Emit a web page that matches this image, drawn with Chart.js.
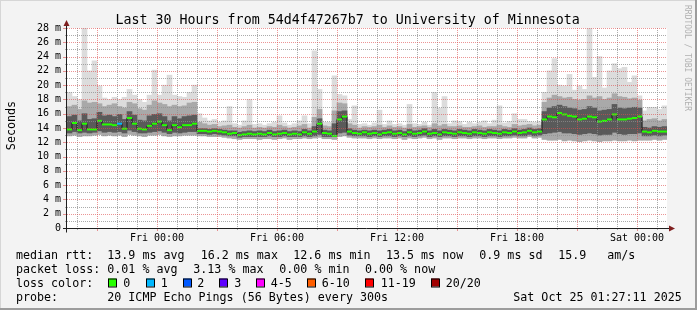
<!DOCTYPE html>
<html><head><meta charset="utf-8">
<script src="https://cdn.jsdelivr.net/npm/chart.js@4"></script>
<style>html,body{margin:0;padding:0;background:#f3f3f3;}#wrap{width:697px;height:310px;}</style>
</head><body><div id="wrap"><canvas id="c" width="697" height="310"></canvas></div>
<script>
// ---------- data ----------
const titleText = "Last 30 Hours from 54d4f47267b7 to University of Minnesota";
const yAxisTitle = "Seconds";
const watermark = "RRDTOOL / TOBI OETIKER";
const xTickValues = [4.5, 10.5, 16.5, 22.5, 28.5];            // hours since Thu 19:30
const xTickLabels = ["Fri 00:00", "Fri 06:00", "Fri 12:00", "Fri 18:00", "Sat 00:00"];
const yTickValues = [0, 2, 4, 6, 8, 10, 12, 14, 16, 18, 20, 22, 24, 26, 28];
const spanHours = 30;
const binHours = 0.25;

// median rtt (ms), one value per 15-minute bin
const median = [
13.8,14.7,13.7,14.6,13.8,13.8,15.0,14.5,14.5,14.4,14.6,13.9,15.4,14.6,13.9,13.8,14.3,14.6,14.9,14.4,13.7,14.4,14.1,14.4,14.4,14.6,
13.6,13.6,13.5,13.6,13.5,13.4,13.2,13.3,13.0,13.1,13.2,13.1,13.2,13.1,13.3,13.1,13.2,13.3,13.1,13.2,13.1,13.4,13.2,13.5,14.6,13.3,13.2,12.9,15.2,15.6,13.5,13.3,13.2,
13.4,13.2,13.3,13.1,13.3,13.4,13.2,13.3,13.1,13.4,13.2,13.3,13.5,13.2,13.3,13.1,13.4,13.3,13.2,13.4,13.3,13.2,13.4,13.3,13.2,13.4,13.3,13.2,13.4,13.3,13.5,13.3,13.4,13.6,13.4,13.5,
15.2,15.6,15.5,16.1,15.9,15.7,15.6,15.2,15.3,15.6,15.5,14.9,15.0,15.2,15.9,15.2,15.2,15.3,15.4,15.6,
13.5,13.4,13.6,13.5,13.5];
// lost pings (of 20) per bin
const lossCount = [
0,0,0,0,0,0,0,0,0,0,1,0,0,0,0,0,0,0,0,0,0,0,0,0,0,0,
0,0,0,0,0,0,0,0,0,0,0,0,0,0,0,0,0,0,0,0,0,0,0,0,0,0,0,0,0,0,0,0,0,
0,0,0,0,0,0,0,0,0,0,0,0,0,0,0,0,0,0,0,0,0,0,0,0,0,0,0,0,0,0,0,0,0,0,0,0,
0,0,0,0,0,0,0,0,0,0,0,0,0,0,0,0,0,0,0,0,
0,0,0,0,0];
// smoke: lowest ping, dark band low/high, medium band high, highest ping (ms)
const smokeLo = [
12.9,13.0,12.8,12.9,12.9,13.0,13.1,12.9,13.0,12.9,13.0,12.8,13.1,13.0,12.9,12.8,13.0,13.0,13.1,12.9,12.8,12.9,12.9,13.0,13.0,13.0,
12.9,12.9,12.8,12.8,12.8,12.7,12.6,12.5,12.4,12.5,12.5,12.5,12.4,12.5,12.5,12.4,12.5,12.6,12.4,12.5,12.5,12.6,12.5,12.6,12.7,12.5,12.5,12.4,12.8,12.9,12.7,12.6,12.6,
12.6,12.5,12.6,12.5,12.6,12.6,12.5,12.6,12.4,12.6,12.5,12.6,12.7,12.5,12.6,12.4,12.6,12.6,12.5,12.6,12.6,12.5,12.6,12.6,12.5,12.6,12.6,12.5,12.6,12.6,12.7,12.6,12.6,12.8,12.6,12.7,
12.4,12.3,12.3,12.4,12.2,12.3,12.2,12.1,12.2,12.3,12.2,12.1,12.2,12.2,12.3,12.2,12.2,12.3,12.2,12.3,
12.3,12.3,12.4,12.3,12.4];
const darkLo = [
13.3,13.5,13.3,13.4,13.3,13.4,13.6,13.4,13.5,13.4,13.5,13.3,13.7,13.5,13.3,13.3,13.4,13.5,13.6,13.4,13.2,13.4,13.3,13.4,13.5,13.5,
13.2,13.2,13.1,13.2,13.1,13.0,12.9,12.9,12.7,12.8,12.8,12.8,12.8,12.8,12.9,12.8,12.8,12.9,12.8,12.8,12.8,12.9,12.8,12.9,13.1,12.8,12.8,12.8,13.3,13.4,13.0,12.9,12.9,
12.9,12.8,12.9,12.8,12.9,12.9,12.8,12.9,12.8,12.9,12.8,12.9,13.0,12.8,12.9,12.8,12.9,12.9,12.8,12.9,12.9,12.8,12.9,12.9,12.8,12.9,12.9,12.8,12.9,12.9,13.0,12.9,12.9,13.1,12.9,13.0,
13.2,13.3,13.4,13.5,13.3,13.3,13.2,13.1,13.2,13.3,13.2,13.0,13.1,13.1,13.4,13.2,13.1,13.2,13.2,13.3,
12.9,12.9,13.0,12.9,13.0];
const darkHi = [
15.6,15.8,15.0,16.0,15.2,15.3,16.2,15.7,15.8,15.6,15.9,15.2,16.3,15.8,15.1,15.0,15.7,15.9,16.0,15.6,15.0,15.6,15.3,15.6,15.7,15.8,
13.9,13.9,13.8,13.9,13.8,13.7,13.6,13.6,13.4,13.5,13.6,13.5,13.6,13.5,13.7,13.5,13.6,13.7,13.5,13.6,13.5,13.8,13.6,14.2,15.3,13.7,13.6,14.6,16.3,16.4,13.9,13.7,13.6,
13.7,13.6,13.7,13.6,13.7,13.8,13.6,13.7,13.5,13.8,13.6,13.7,13.9,13.6,13.8,13.6,13.8,13.7,13.6,13.8,13.7,13.6,13.8,13.7,13.6,13.8,13.7,13.6,13.8,13.7,13.9,13.7,13.8,14.0,13.8,13.9,
16.3,16.8,17.0,17.2,17.0,16.8,16.7,16.5,16.6,17.0,16.8,16.4,16.5,16.6,17.3,16.8,16.7,16.8,16.9,16.8,
14.1,14.0,14.2,14.1,14.2];
const midHi = [
17.0,17.2,16.6,17.8,17.5,17.6,17.4,17.0,17.2,17.4,17.0,16.8,17.6,17.4,16.7,16.5,17.2,17.8,17.5,17.3,17.0,17.2,17.0,17.1,17.5,17.6,
14.8,14.6,14.4,14.5,14.2,14.3,14.4,14.1,14.0,14.2,14.4,14.0,14.1,14.0,14.2,14.1,14.4,14.2,14.0,14.1,14.3,14.5,14.0,15.5,16.6,14.3,14.2,16.4,17.5,17.4,14.6,14.4,14.0,
14.2,14.1,14.2,14.4,14.1,14.3,14.1,14.2,14.0,14.5,14.1,14.2,14.3,14.1,14.6,14.3,14.5,14.2,14.2,14.3,14.1,14.1,14.2,14.3,14.1,14.2,14.2,14.4,14.2,14.1,14.5,14.3,14.4,14.5,14.3,14.4,
17.6,18.2,18.6,18.4,18.2,18.3,18.0,17.9,18.0,18.5,18.2,18.4,18.0,18.2,18.8,18.4,18.3,18.1,18.2,17.9,
15.0,15.2,15.3,15.0,15.2];
const smokeHi = [
19.0,18.4,18.0,28.0,22.0,23.4,19.9,18.2,18.0,18.3,18.0,18.3,19.4,18.6,18.0,17.6,18.6,22.1,18.6,20.0,21.4,18.6,18.4,18.3,19.0,20.0,
16.0,15.4,15.0,15.2,14.8,15.0,17.0,14.6,14.4,15.0,18.0,14.5,14.6,14.4,14.6,14.8,15.7,14.7,14.4,14.6,15.0,15.7,14.6,24.8,19.4,14.8,14.8,21.3,18.7,18.5,15.2,17.1,14.5,
14.6,14.4,14.7,16.5,14.5,15.0,14.5,14.6,14.4,17.3,14.6,14.5,14.8,14.4,19.0,16.8,18.4,14.6,15.0,14.9,14.5,14.8,14.6,14.8,15.0,14.6,15.1,17.1,14.7,14.9,16.0,15.2,15.2,14.9,14.8,14.9,
19.0,22.0,23.7,20.0,19.9,21.5,19.3,19.9,19.4,28.0,21.1,24.0,19.6,22.0,23.0,22.3,22.5,20.4,21.3,18.5,
16.4,16.9,16.9,16.6,17.1];

const legendRows = [
  {y: 258.5, items: [[16,"median rtt:"],[107.3,"13.9 ms avg"],[200.7,"16.2 ms max"],[293.3,"12.6 ms min"],[386,"13.5 ms now"],[479.3,"0.9 ms sd"],[558.3,"15.9"],[607.3,"am/s"]]},
  {y: 272.5, items: [[16,"packet loss:"],[107.3,"0.01 % avg"],[193.3,"3.13 % max"],[279.3,"0.00 % min"],[365,"0.00 % now"]]},
  {y: 286.5, items: [[16,"loss color:"]]},
  {y: 300.5, items: [[16,"probe:"],[107.3,"20 ICMP Echo Pings (56 Bytes) every 300s"],[513.3,"Sat Oct 25 01:27:11 2025"]]}
];
const lossLabels = ["0","1","2","3","4-5","6-10","11-19","20/20"];
const lossColors = ["#26ff00","#00b8ff","#0059ff","#5e00ff","#ff00ff","#ff5e00","#ff0000","#a10000"];
const lossBoxX = [108.3,145.7,182.7,219.3,256,307.3,365.3,431];
const lossTextX = [123.3,160.7,197.3,234.3,270.7,321.7,380.7,445.7];

// ---------- build ----------
const FONT = '"DejaVu Sans Mono", monospace';
const binTime = median.map((_, i) => (i + 0.5) * binHours);
const pts = arr => arr.map((v, i) => ({x: binTime[i], y: v}));
const band = (a, b) => a.map((v, i) => ({x: binTime[i], y: [v, b[i]]}));
function lossColor(n){
  if (n <= 3) return lossColors[n];
  if (n <= 5) return lossColors[4];
  if (n <= 10) return lossColors[5];
  if (n <= 19) return lossColors[6];
  return lossColors[7];
}
const GRID = 'rgba(143,143,143,0.75)';
const MGRID = 'rgba(222,79,79,0.6)';

const bgPlugin = {
  id: 'bg',
  beforeDraw(chart){
    const {ctx, chartArea: a, width: W, height: H} = chart;
    ctx.save();
    ctx.fillStyle = '#f3f3f3'; ctx.fillRect(0, 0, W, H);
    ctx.fillStyle = '#d6d6d6'; ctx.fillRect(0, 0, W, 1); ctx.fillRect(0, 0, 1, H);
    ctx.fillStyle = '#9c9c9c'; ctx.fillRect(W - 2, 0, 2, H); ctx.fillRect(0, H - 2, W, 2);
    ctx.fillStyle = '#ffffff'; ctx.fillRect(a.left, a.top, a.right - a.left, a.bottom - a.top);
    ctx.restore();
  }
};
const gridPlugin = {
  id: 'rrdgrid',
  afterDatasetsDraw(chart){
    const {ctx, chartArea: a, scales: {x, y}} = chart;
    ctx.save();
    ctx.lineWidth = 1;
    ctx.setLineDash([1, 1]);
    for (let h = 0.5; h < spanHours; h += 1){
      const px = Math.round(x.getPixelForValue(h)) + 0.5;
      const major = Math.abs(((h - 1.5) % 3 + 3) % 3) < 1e-6;
      ctx.strokeStyle = major ? MGRID : GRID;
      ctx.beginPath(); ctx.moveTo(px, a.top); ctx.lineTo(px, a.bottom); ctx.stroke();
    }
    for (let v = 1; v <= 28; v++){
      const py = Math.round(y.getPixelForValue(v)) + 0.5;
      ctx.strokeStyle = (v % 2 === 0) ? MGRID : GRID;
      ctx.beginPath(); ctx.moveTo(a.left, py); ctx.lineTo(a.right, py); ctx.stroke();
    }
    ctx.setLineDash([]);
    // tick marks
    for (let h = 0.5; h < spanHours; h += 1){
      const px = Math.round(x.getPixelForValue(h)) + 0.5;
      const major = Math.abs(((h - 1.5) % 3 + 3) % 3) < 1e-6;
      ctx.strokeStyle = major ? MGRID : GRID;
      ctx.beginPath(); ctx.moveTo(px, a.bottom); ctx.lineTo(px, a.bottom + (major ? 3 : 2)); ctx.stroke();
    }
    for (let v = 1; v <= 28; v++){
      const py = Math.round(y.getPixelForValue(v)) + 0.5;
      const major = v % 2 === 0;
      ctx.strokeStyle = major ? MGRID : GRID;
      ctx.beginPath(); ctx.moveTo(a.left - (major ? 4 : 2), py); ctx.lineTo(a.left, py); ctx.stroke();
    }
    // axes
    ctx.strokeStyle = '#1f1f1f';
    const ay = Math.round(y.getPixelForValue(0)) + 0.5;
    const ax = a.left - 0.5;
    ctx.beginPath(); ctx.moveTo(a.left - 4, ay); ctx.lineTo(a.right + 3, ay); ctx.stroke();
    ctx.beginPath(); ctx.moveTo(ax, ay + 4); ctx.lineTo(ax, a.top - 4); ctx.stroke();
    ctx.fillStyle = '#7f1f1f';
    ctx.beginPath(); ctx.moveTo(ax - 3, a.top - 2); ctx.lineTo(ax + 3, a.top - 2); ctx.lineTo(ax, a.top - 8); ctx.closePath(); ctx.fill();
    ctx.beginPath(); ctx.moveTo(a.right + 2, ay - 3); ctx.lineTo(a.right + 2, ay + 3); ctx.lineTo(a.right + 8, ay); ctx.closePath(); ctx.fill();
    ctx.restore();
  }
};
const textPlugin = {
  id: 'texts',
  afterDraw(chart){
    const {ctx} = chart;
    ctx.save();
    ctx.fillStyle = '#000';
    ctx.textBaseline = 'alphabetic';
    ctx.font = '13.3px ' + FONT;
    ctx.textAlign = 'center';
    ctx.fillText(titleText, 347.7, 24);
    // y axis title
    ctx.font = '11.7px ' + FONT;
    ctx.save(); ctx.translate(15.3, 125.5); ctx.rotate(-Math.PI / 2);
    ctx.fillText(yAxisTitle, 0, 0); ctx.restore();
    // watermark
    ctx.save(); ctx.fillStyle = '#b0b0b0'; ctx.font = '8px ' + FONT; ctx.textAlign = 'left';
    ctx.translate(685, 5); ctx.rotate(Math.PI / 2); ctx.fillText(watermark, 0, 0); ctx.restore();
    // legend
    ctx.textAlign = 'left';
    ctx.font = '11.67px ' + FONT;
    legendRows.forEach(r => r.items.forEach(([x, t]) => ctx.fillText(t, x, r.y)));
    const boxRow = legendRows[2].y;
    lossLabels.forEach((lab, i) => {
      ctx.fillStyle = lossColors[i];
      ctx.fillRect(Math.round(lossBoxX[i]), boxRow - 8, 8, 8);
      ctx.strokeStyle = '#000'; ctx.lineWidth = 1;
      ctx.strokeRect(Math.round(lossBoxX[i]) + 0.5, boxRow - 8 + 0.5, 8, 8);
      ctx.fillStyle = '#000';
      ctx.fillText(lab, lossTextX[i], boxRow);
    });
    ctx.restore();
  }
};

const barCommon = {type: 'bar', borderWidth: 0, grouped: false, barPercentage: 1, categoryPercentage: 1};
new Chart(document.getElementById('c'), {
  type: 'bar',
  data: {
    datasets: [
      {type: 'line', label: 'median', data: pts(median), showLine: false, order: 0,
       pointStyle: 'line', pointRadius: 2.5, pointBorderWidth: 2, pointHoverRadius: 0,
       pointBorderColor: ctx => lossColor(lossCount[ctx.dataIndex] || 0)},
      {type: 'line', label: 'medianLine', data: pts(median), stepped: 'middle', order: 1,
       borderColor: '#1a1a1a', borderWidth: 1, pointRadius: 0, fill: false},
      Object.assign({label: 'dark', data: band(darkLo, darkHi), backgroundColor: '#5a5a5a', order: 2}, barCommon),
      Object.assign({label: 'mid', data: band(smokeLo, midHi), backgroundColor: '#a9a9a9', order: 3}, barCommon),
      Object.assign({label: 'light', data: band(smokeLo, smokeHi), backgroundColor: '#dcdcdc', order: 4}, barCommon)
    ]
  },
  options: {
    responsive: false, animation: false, devicePixelRatio: 1, events: [],
    layout: {padding: {left: 0, right: 30, top: 28, bottom: 0}},
    plugins: {legend: {display: false}, tooltip: {enabled: false}, title: {display: false}},
    scales: {
      x: {type: 'linear', min: 0, max: spanHours, offset: false,
          grid: {display: false, drawTicks: false}, border: {display: false},
          afterBuildTicks: s => { s.ticks = xTickValues.map(v => ({value: v})); },
          afterFit: s => { s.height = 82; },
          ticks: {autoSkip: false, maxRotation: 0, minRotation: 0, padding: 4, color: '#000',
                  font: {family: FONT, size: 10},
                  callback: (v, i) => xTickLabels[i]}},
      y: {type: 'linear', min: 0, max: 28,
          grid: {display: false, drawTicks: false}, border: {display: false},
          afterBuildTicks: s => { s.ticks = yTickValues.map(v => ({value: v})); },
          afterFit: s => { s.width = 67; },
          ticks: {autoSkip: false, padding: 6, color: '#000', font: {family: FONT, size: 10},
                  callback: v => v === 0 ? '0' : v + ' m'}}
    }
  },
  plugins: [bgPlugin, gridPlugin, textPlugin]
});
</script>
</body></html>
